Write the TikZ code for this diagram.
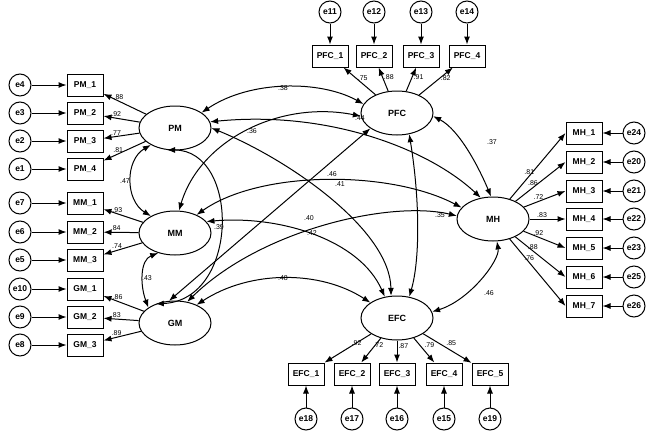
\documentclass[tikz,border=0pt]{standalone}
\usepackage{fontspec}
\setmainfont{Liberation Sans}
\usetikzlibrary{shapes.geometric,arrows.meta}
\catcode`\_=12

\tikzset{
  lat/.style={draw,line width=1pt,ellipse,minimum width=72pt,minimum height=44pt,inner sep=0pt,font=\fontsize{9}{10}\selectfont\bfseries},
  obs/.style={draw,line width=1pt,rectangle,minimum width=36pt,minimum height=22pt,inner sep=0pt,font=\fontsize{8.5}{9}\selectfont\bfseries},
  err/.style={draw,line width=1pt,circle,minimum size=22pt,inner sep=0pt,font=\fontsize{8.5}{9}\selectfont\bfseries},
  path/.style={line width=1pt,-{Latex[length=8pt,width=6pt]}},
  cov/.style={line width=1pt,{Latex[length=8pt,width=6pt]}-{Latex[length=8pt,width=6pt]}},
  lbl/.style={font=\fontsize{7}{8}\selectfont,inner sep=1pt}
}

\begin{document}
\begin{tikzpicture}[x=1pt,y=-1pt]
\useasboundingbox (0,0) rectangle (669,431);

% latent variables
\node[lat] (PM) at (175,128) {PM};
\node[lat] (MM) at (175,233) {MM};
\node[lat] (GM) at (175,323) {GM};
\node[lat] (PFC) at (397,113) {PFC};
\node[lat] (MH) at (493,219) {MH};
\node[lat] (EFC) at (397,318) {EFC};

% left indicators
\foreach \i/\e/\y/\l/\v in {PM_1/e4/85/PM/.88, PM_2/e3/113/PM/.92, PM_3/e2/141/PM/.77, PM_4/e1/169/PM/.81,
  MM_1/e7/203/MM/.93, MM_2/e6/232/MM/.84, MM_3/e5/260/MM/.74,
  GM_1/e10/289/GM/.86, GM_2/e9/317/GM/.83, GM_3/e8/345/GM/.89}{
  \node[obs] (\i) at (85,\y) {\i};
  \node[err] (\e) at (20,\y) {\e};
  \draw[path] (\e) -- (\i);
  \draw[path] (\l) -- node[lbl,pos=0.65,above] {\v} (\i);
}

% PFC indicators
\foreach \i/\e/\x/\v in {PFC_1/e11/330/.75, PFC_2/e12/374/.88, PFC_3/e13/421/.91, PFC_4/e14/467/.82}{
  \node[obs] (\i) at (\x,56) {\i};
  \node[err] (\e) at (\x,12) {\e};
  \draw[path] (\e) -- (\i);
  \draw[path] (PFC) -- node[lbl,pos=0.6,right] {\v} (\i);
}

% MH indicators
\foreach \i/\e/\y/\v in {MH_1/e24/133/.81, MH_2/e20/162/.86, MH_3/e21/191/.72, MH_4/e22/219/.83,
  MH_5/e23/248/.92, MH_6/e25/277/.88, MH_7/e26/306/.76}{
  \node[obs] (\i) at (584,\y) {\i};
  \node[err] (\e) at (634,\y) {\e};
  \draw[path] (\e) -- (\i);
  \draw[path] (MH) -- node[lbl,pos=0.35,above] {\v} (\i.west);
}

% EFC indicators
\foreach \i/\e/\x/\v in {EFC_1/e18/306/.92, EFC_2/e17/352/.72, EFC_3/e16/397/.87, EFC_4/e15/444/.79, EFC_5/e19/490/.85}{
  \node[obs] (\i) at (\x,374) {\i};
  \node[err] (\e) at (\x,419) {\e};
  \draw[path] (\e) -- (\i);
  \draw[path] (EFC) -- node[lbl,pos=0.45,above right] {\v} (\i);
}

% covariances
\draw[cov] (PM.30) .. controls (250,80) and (320,80) .. (PFC.165);
\draw[cov] (MM.80) .. controls (200,140) and (280,100) .. (PFC.185);
\draw[cov] (GM.105) -- (PFC.210);
\draw[cov] (PM.10) .. controls (330,110) and (430,150) .. (MH.120);
\draw[cov] (MM.40) .. controls (260,170) and (390,170) .. (MH.160);
\draw[cov] (GM.60) .. controls (260,230) and (390,200) .. (MH.175);
\draw[cov] (PM.0) .. controls (290,160) and (390,230) .. (EFC.105);
\draw[cov] (MM.20) .. controls (280,215) and (360,240) .. (EFC.120);
\draw[cov] (GM.40) .. controls (250,270) and (320,270) .. (EFC.150);
\draw[cov] (PM.215) .. controls (125,160) and (125,200) .. (MM.145);
\draw[cov] (MM.230) .. controls (140,260) and (140,285) .. (GM.150);
\draw[cov] (PM.250) .. controls (240,150) and (240,300) .. (GM.135);
\draw[cov] (PFC.300) .. controls (420,200) and (420,260) .. (EFC.60);
\draw[cov] (PFC.355) .. controls (460,130) and (480,170) .. (MH.95);
\draw[cov] (MH.280) .. controls (500,260) and (470,300) .. (EFC.10);

% covariance labels
\node[lbl] (c1) at (283,88) {.38};
\node[lbl] (c2) at (252,131) {.36};
\node[lbl] (c3) at (360,118) {.44};
\node[lbl] (c4) at (332,174) {.46};
\node[lbl] (c5) at (340,184) {.41};
\node[lbl] (c6) at (309,218) {.40};
\node[lbl] (c7) at (312,233) {.42};
\node[lbl] (c8) at (283,278) {.48};
\node[lbl] (c9) at (219,227) {.39};
\node[lbl] (c10) at (125,181) {.47};
\node[lbl] (c11) at (147,278) {.43};
\node[lbl] (c12) at (440,215) {.35};
\node[lbl] (c13) at (492,142) {.37};
\node[lbl] (c14) at (489,293) {.46};
\end{tikzpicture}
\end{document}
